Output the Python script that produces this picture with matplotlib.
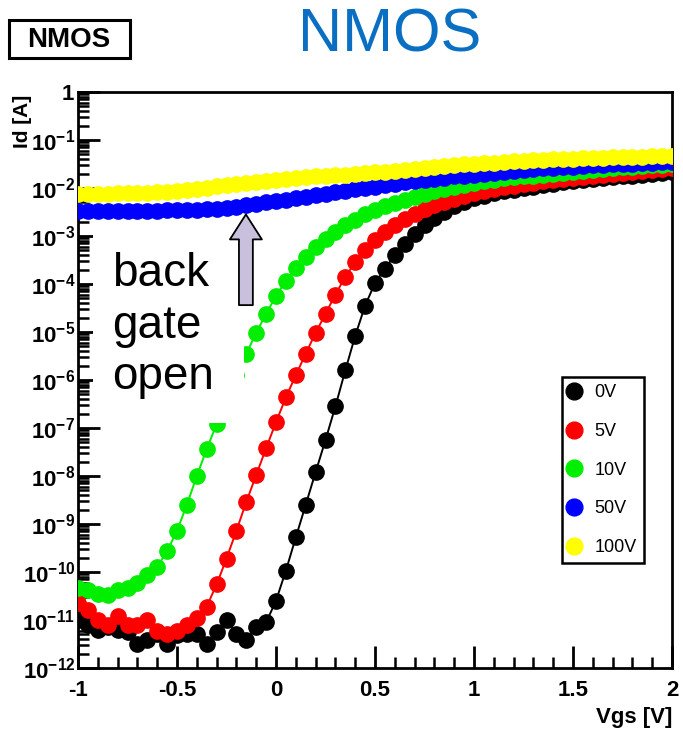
import numpy as np
import matplotlib
matplotlib.use('Agg')
import matplotlib.pyplot as plt
from matplotlib.patches import Rectangle, FancyArrowPatch, ArrowStyle
from matplotlib.ticker import LogLocator, FixedLocator, FuncFormatter, NullFormatter

plt.rcParams['font.family'] = ['Liberation Sans', 'DejaVu Sans']
plt.rcParams['mathtext.fontset'] = 'custom'
plt.rcParams['mathtext.rm'] = 'Liberation Sans'
plt.rcParams['mathtext.bf'] = 'Liberation Sans:bold'

# Vgs sweep, 0.05 V step
vgs = np.round(np.arange(-1.0, 2.0001, 0.05), 2)

# log10(Id), one list per back gate voltage
log_id_0v = [-10.90, -11.10, -11.20, -11.15, -11.20, -11.25, -11.50, -11.42, -11.30, -11.50,
             -11.32, -11.30, -11.30, -11.50, -11.25, -11.00, -11.30, -11.42, -11.15, -11.05,
             -10.60, -9.97, -9.28, -8.60, -7.92, -7.25, -6.55, -5.80, -5.08, -4.45,
             -3.98, -3.68, -3.40, -3.16, -2.95, -2.78, -2.62, -2.49, -2.38, -2.29,
             -2.21, -2.16, -2.11, -2.07, -2.04, -2.00, -1.97, -1.94, -1.91, -1.88,
             -1.86, -1.84, -1.82, -1.80, -1.78, -1.76, -1.74, -1.72, -1.70, -1.68, -1.66]
log_id_5v = [-10.65, -10.80, -11.00, -11.10, -10.92, -11.10, -11.10, -11.00, -11.23, -11.30,
             -11.23, -11.10, -10.95, -10.72, -10.26, -9.72, -9.14, -8.54, -7.98, -7.42,
             -6.88, -6.36, -5.90, -5.45, -5.02, -4.62, -4.22, -3.85, -3.55, -3.30,
             -3.08, -2.92, -2.78, -2.65, -2.54, -2.44, -2.36, -2.29, -2.22, -2.16,
             -2.10, -2.06, -2.02, -1.98, -1.95, -1.92, -1.89, -1.86, -1.84, -1.81,
             -1.79, -1.77, -1.75, -1.73, -1.71, -1.69, -1.67, -1.65, -1.63, -1.61, -1.58]
log_id_10v = [-10.34, -10.38, -10.45, -10.47, -10.38, -10.34, -10.22, -10.07, -9.89, -9.57,
              -9.14, -8.60, -8.00, -7.44, -6.92, -6.40, -5.90, -5.45, -5.02, -4.62,
              -4.25, -3.93, -3.66, -3.43, -3.23, -3.06, -2.91, -2.78, -2.66, -2.55,
              -2.46, -2.38, -2.31, -2.24, -2.18, -2.12, -2.07, -2.02, -1.97, -1.93,
              -1.89, -1.86, -1.83, -1.80, -1.78, -1.76, -1.74, -1.72, -1.70, -1.68,
              -1.66, -1.64, -1.62, -1.60, -1.59, -1.57, -1.56, -1.54, -1.53, -1.52, -1.50]
log_id_50v = [-2.47, -2.48, -2.48, -2.48, -2.48, -2.48, -2.47, -2.47, -2.47, -2.46,
              -2.46, -2.46, -2.45, -2.44, -2.43, -2.41, -2.39, -2.36, -2.33, -2.30,
              -2.27, -2.24, -2.21, -2.18, -2.15, -2.12, -2.09, -2.06, -2.03, -2.00,
              -1.97, -1.94, -1.91, -1.88, -1.85, -1.83, -1.81, -1.79, -1.76, -1.74,
              -1.72, -1.70, -1.68, -1.66, -1.64, -1.62, -1.61, -1.59, -1.58, -1.57,
              -1.56, -1.54, -1.53, -1.52, -1.51, -1.50, -1.49, -1.48, -1.47, -1.46, -1.45]
log_id_100v = [-2.12, -2.12, -2.12, -2.12, -2.11, -2.11, -2.10, -2.10, -2.09, -2.08,
               -2.06, -2.04, -2.02, -1.99, -1.96, -1.94, -1.91, -1.89, -1.87, -1.85,
               -1.83, -1.81, -1.80, -1.78, -1.76, -1.75, -1.73, -1.72, -1.70, -1.69,
               -1.67, -1.66, -1.64, -1.62, -1.60, -1.59, -1.57, -1.55, -1.53, -1.51,
               -1.49, -1.48, -1.47, -1.45, -1.44, -1.43, -1.42, -1.41, -1.40, -1.39,
               -1.39, -1.38, -1.37, -1.37, -1.36, -1.36, -1.35, -1.35, -1.34, -1.34, -1.33]

labels = ['0V', '5V', '10V', '50V', '100V']
colors = ['#000000', '#ff0000', '#00ee00', '#0000ff', '#ffff00']
series = [log_id_0v, log_id_5v, log_id_10v, log_id_50v, log_id_100v]

fig = plt.figure(figsize=(6.83, 7.34), dpi=100)
W, H = 683, 734
ax = fig.add_axes([78 / W, 66 / H, 594 / W, 576 / H])

handles = []
for lab, col, vals in zip(labels, colors, series):
    h, = ax.plot(vgs, 10.0 ** np.array(vals), '-o', color=col, lw=1.4,
                 ms=11, mec=col, mfc=col, label=lab, zorder=3)
    handles.append(h)

ax.set_yscale('log')
ax.set_xlim(-1, 2)
ax.set_ylim(1e-12, 1)

# axes, ROOT style
for s in ax.spines.values():
    s.set_linewidth(2)
ax.xaxis.set_major_locator(FixedLocator([-1, -0.5, 0, 0.5, 1, 1.5, 2]))
ax.xaxis.set_minor_locator(FixedLocator(np.round(np.arange(-1, 2.001, 0.1), 1)))
ax.yaxis.set_major_locator(LogLocator(base=10, numticks=20))
ax.yaxis.set_minor_locator(LogLocator(base=10, subs=np.arange(2, 10), numticks=20))
ax.yaxis.set_minor_formatter(NullFormatter())


def xfmt(v, pos):
    return '%g' % v


def yfmt(v, pos):
    e = int(round(np.log10(v)))
    if e == 0:
        return r'$\mathbf{1}$'
    return r'$\mathbf{10^{%d}}$' % e


ax.xaxis.set_major_formatter(FuncFormatter(xfmt))
ax.yaxis.set_major_formatter(FuncFormatter(yfmt))
ax.tick_params(which='major', direction='in', length=16, width=2, labelsize=16)
ax.tick_params(which='minor', direction='in', length=8, width=1.8)
ax.tick_params(axis='x', which='major', pad=9)
ax.tick_params(axis='y', which='major', pad=2)
for t in ax.get_xticklabels():
    t.set_fontweight('bold')

ax.set_xlabel('Vgs [V]', fontsize=16, fontweight='bold', loc='right', labelpad=4)
ax.set_ylabel('Id [A]', fontsize=15, fontweight='bold', loc='top', labelpad=0)
ax.yaxis.set_label_coords(-0.078, 0.995)

# white mask behind the annotation text
ax.add_patch(Rectangle((0.025, 0.425), 0.255, 0.33, transform=ax.transAxes,
                       facecolor='white', edgecolor='none', zorder=4))
ax.text(0.058, 0.722, 'back\ngate\nopen', transform=ax.transAxes, fontsize=33,
        ha='left', va='top', linespacing=1.22, zorder=5)

arrow = FancyArrowPatch((-0.152, 10 ** -4.44), (-0.152, 10 ** -2.55),
                        arrowstyle=ArrowStyle.Simple(head_length=18, head_width=23, tail_width=10),
                        mutation_scale=1, shrinkA=0, shrinkB=0,
                        facecolor='#c8c0dc', edgecolor='black', lw=1.3, zorder=6)
ax.add_patch(arrow)

leg = ax.legend(handles=handles, loc='upper left', bbox_to_anchor=(0.815, 0.505),
                fontsize=13, frameon=True, fancybox=False, edgecolor='black',
                framealpha=1, handlelength=0.5, handletextpad=0.9, labelspacing=1.2,
                borderpad=0.4, borderaxespad=0, markerscale=1.1)
leg.get_frame().set_linewidth(1.8)
for lh in leg.legend_handles:
    lh.set_linestyle('none')
leg.set_zorder(7)

fig.text(390 / W, 1 - 36 / H, 'NMOS', fontsize=44, color='#0a6fc2', ha='center', va='center')
fig.patches.append(Rectangle((9 / W, 1 - 58 / H), 121 / W, 38 / H, transform=fig.transFigure,
                             facecolor='white', edgecolor='black', lw=2.2))
fig.text(69 / W, 1 - 40 / H, 'NMOS', fontsize=20, fontweight='bold', ha='center', va='center')

fig.savefig('out.png', dpi=100)
